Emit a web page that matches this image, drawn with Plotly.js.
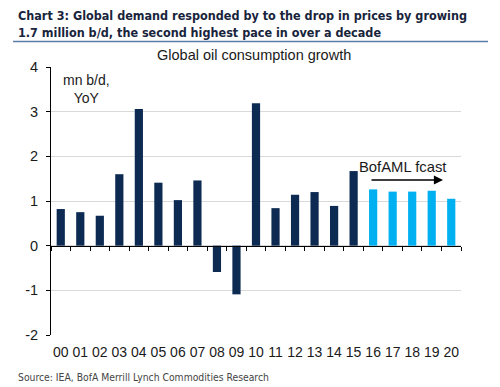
<!DOCTYPE html>
<html>
<head>
<meta charset="utf-8">
<script src="https://cdn.plot.ly/plotly-3.0.1.min.js"></script>
<style>
html,body{margin:0;padding:0;background:#fff;}
#chart{width:500px;height:387px;}
</style>
</head>
<body>
<div id="chart"></div>
<script>
// Data
const years = ["00","01","02","03","04","05","06","07","08","09","10","11","12","13","14","15","16","17","18","19","20"];
const actualYears = years.slice(0, 16);
const actualValues = [0.82, 0.75, 0.67, 1.60, 3.06, 1.41, 1.02, 1.46, -0.59, -1.09, 3.19, 0.84, 1.14, 1.20, 0.89, 1.67];
const forecastYears = years.slice(16);
const forecastValues = [1.26, 1.21, 1.21, 1.23, 1.05];
const yTicks = [-2, -1, 0, 1, 2, 3, 4];

const headerLine1 = "Chart 3: Global demand responded by to the drop in prices by growing";
const headerLine2 = "1.7 million b/d, the second highest pace in over a decade";
const chartTitle = "Global oil consumption growth";
const unitLabel = "mn b/d,<br>YoY";
const fcastLabel = "BofAML fcast";
const sourceText = "Source: IEA, BofA Merrill Lynch Commodities Research";

// Layout geometry
const W = 500, H = 387;
const mL = 51, mR = 39, mT = 67, mB = 52;
const pw = W - mL - mR, ph = H - mT - mB;
const px = x => (x - mL) / pw;
const py = y => (H - mB - y) / ph;

const narrow = "'DejaVu Sans Condensed', 'Liberation Sans Narrow', sans-serif";
const arial = "Arial, 'Liberation Sans', sans-serif";

const traces = [
  {
    type: "bar", x: actualYears, y: actualValues, xaxis: "x", yaxis: "y",
    marker: {color: "#0c2a52"}, width: 0.42, hoverinfo: "x+y"
  },
  {
    type: "bar", x: forecastYears, y: forecastValues, xaxis: "x", yaxis: "y",
    marker: {color: "#00b0f0"}, width: 0.42, hoverinfo: "x+y"
  },
  {
    type: "scatter", mode: "markers", x: years, y: years.map(() => 0),
    xaxis: "x2", yaxis: "y", marker: {opacity: 0}, hoverinfo: "skip", showlegend: false
  }
];

const layout = {
  width: W, height: H,
  margin: {l: mL, r: mR, t: mT, b: mB, pad: 0},
  paper_bgcolor: "#fff", plot_bgcolor: "#fff",
  showlegend: false,
  barmode: "overlay",
  font: {family: arial, color: "#1a1a1a", size: 14},
  xaxis: {
    type: "category", categoryorder: "array", categoryarray: years,
    range: [-0.5, years.length - 0.5],
    showgrid: false, showline: false, zeroline: false,
    ticks: "outside", ticklen: 4, tickcolor: "rgba(0,0,0,0)",
    tickfont: {family: arial, size: 14, color: "#1a1a1a"}
  },
  xaxis2: {
    type: "category", overlaying: "x", matches: "x", anchor: "free", position: 1/3,
    showgrid: false, showline: true, linecolor: "#000", linewidth: 1,
    ticks: "outside", ticklen: 4, tickcolor: "#000", tickson: "boundaries",
    showticklabels: false, zeroline: false
  },
  yaxis: {
    range: [-2, 4], tickvals: yTicks, ticktext: yTicks.map(String),
    showgrid: true, gridcolor: "#d9d9d9", gridwidth: 1,
    showline: true, linecolor: "#000", linewidth: 1,
    ticks: "outside", ticklen: 4, tickcolor: "#000",
    ticklabelstandoff: 5,
    zeroline: false,
    tickfont: {family: arial, size: 14.5, color: "#1a1a1a"}
  },
  shapes: [
    {type: "line", xref: "paper", yref: "paper", x0: px(13), x1: px(488), y0: py(41.5), y1: py(41.5),
     line: {color: "#5b7ca8", width: 1.5}}
  ],
  annotations: [
    {text: "<b>" + headerLine1 + "</b>", xref: "paper", yref: "paper", x: px(16), y: py(15),
     xanchor: "left", yanchor: "middle", showarrow: false,
     font: {family: narrow, size: 12.5, color: "#18243c"}},
    {text: "<b>" + headerLine2 + "</b>", xref: "paper", yref: "paper", x: px(16), y: py(33),
     xanchor: "left", yanchor: "middle", showarrow: false,
     font: {family: narrow, size: 12.5, color: "#18243c"}},
    {text: chartTitle, xref: "paper", yref: "paper", x: px(254), y: py(55),
     xanchor: "center", yanchor: "middle", showarrow: false,
     font: {family: arial, size: 14.5, color: "#1a1a1a"}},
    {text: unitLabel, xref: "paper", yref: "paper", x: px(86), y: py(89),
     xanchor: "center", yanchor: "middle", showarrow: false, align: "center",
     font: {family: arial, size: 14, color: "#1a1a1a"}},
    {text: fcastLabel, xref: "paper", yref: "paper", x: px(402), y: py(167),
     xanchor: "center", yanchor: "middle", showarrow: false,
     font: {family: arial, size: 14.8, color: "#1a1a1a"}},
    {text: "", xref: "paper", yref: "paper", x: px(443), y: py(180),
     ax: px(370), ay: py(180), axref: "paper", ayref: "paper",
     showarrow: true, arrowhead: 2, arrowsize: 1.4, arrowwidth: 1.3, arrowcolor: "#000"},
    {text: sourceText, xref: "paper", yref: "paper", x: px(16), y: py(377),
     xanchor: "left", yanchor: "middle", showarrow: false,
     font: {family: narrow, size: 10.3, color: "#444"}}
  ]
};

Plotly.newPlot("chart", traces, layout, {staticPlot: true, displayModeBar: false});
</script>
</body>
</html>
